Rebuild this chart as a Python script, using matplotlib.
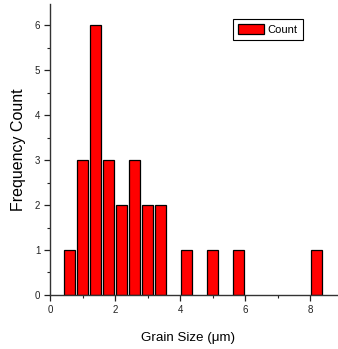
import matplotlib.pyplot as plt
from matplotlib.ticker import MultipleLocator

plt.rcParams['font.family'] = ['Liberation Sans', 'DejaVu Sans']

# histogram bin centres (um) and counts
bin_centers = [0.6, 1.0, 1.4, 1.8, 2.2, 2.6, 3.0, 3.4, 4.2, 5.0, 5.8, 8.2]
counts = [1, 3, 6, 3, 2, 3, 2, 2, 1, 1, 1, 1]
bin_width = 0.4

fig = plt.figure(figsize=(3.38, 3.49), dpi=100)
ax = fig.add_axes([0.148, 0.155, 0.852, 0.834])

ax.bar(bin_centers, counts, width=bin_width * 0.8, color='#ff0000',
       edgecolor='black', linewidth=0.9, label='Count', zorder=2)

ax.set_xlim(0, 8.86)
ax.set_ylim(0, 6.48)
ax.xaxis.set_major_locator(MultipleLocator(2))
ax.xaxis.set_minor_locator(MultipleLocator(1))
ax.yaxis.set_major_locator(MultipleLocator(1))
ax.yaxis.set_minor_locator(MultipleLocator(0.5))

ax.spines['top'].set_visible(False)
ax.spines['right'].set_visible(False)
for s in ['left', 'bottom']:
    ax.spines[s].set_color('#333333')
    ax.spines[s].set_linewidth(1.0)

ax.tick_params(which='major', direction='out', length=4, width=0.9,
               labelsize=7, colors='#222222', pad=3)
ax.tick_params(which='minor', direction='out', length=2.5, width=0.8,
               colors='#222222')

ax.set_xlabel('Grain Size (\u03bcm)', fontsize=9.6)
ax.set_ylabel('Frequency Count', fontsize=11.5)
ax.xaxis.set_label_coords(0.479, -0.128)
ax.yaxis.set_label_coords(-0.083, 0.5)

leg = ax.legend(loc='upper right', bbox_to_anchor=(0.878, 0.948), fontsize=8,
                fancybox=False, edgecolor='black', framealpha=1,
                handlelength=2.35, handleheight=1.0, borderpad=0.45,
                handletextpad=0.35, borderaxespad=0)
leg.get_frame().set_linewidth(0.8)

fig.savefig('out.png', dpi=100)
